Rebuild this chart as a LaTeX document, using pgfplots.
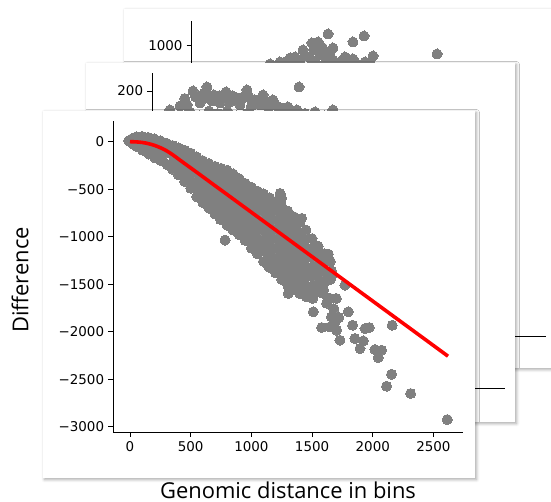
\documentclass[border=0pt]{standalone}
\usepackage{pgfplots}
\pgfplotsset{compat=1.18}
\usepackage{fontspec}
\usetikzlibrary{shadows.blur}
\newfontfamily\dejavu{DejaVu Sans}
\newfontfamily\opensans{Open Sans}
\definecolor{mplgray}{RGB}{128,128,128}
\pgfplotsset{
  card/.style={
    scale only axis, anchor=south west,
    axis lines*=left, axis line style={line width=0.9bp, black},
    tick align=outside, major tick length=5bp,
    tick style={line width=0.9bp, black},
    ticklabel style={font=\dejavu\fontsize{13.5}{14}\selectfont},
    yticklabel style={inner sep=0pt, xshift=-4bp},
    xticklabel style={inner sep=0pt, yshift=-4bp},
    clip marker paths=true,
  },
  dots/.style={only marks, color=mplgray, mark=*, mark size=5bp, mark options={draw=mplgray, fill=mplgray, line width=0pt}},
}
\tikzset{cardshadow/.style={fill=white, blur shadow={shadow xshift=1.5bp, shadow yshift=-1.5bp, shadow blur radius=3bp, shadow opacity=35}}}
\begin{document}
\begin{tikzpicture}
\useasboundingbox (0,0) rectangle (551bp,502bp);
% ---------- back card ----------
\fill[cardshadow] (124bp,134bp) rectangle (575bp,493bp);
\begin{axis}[card, at={(191.7bp,166bp)}, width=354.3bp, height=315.3bp,
  xmin=-137.6, xmax=2783, ymin=-1903, ymax=1250,
  xtick=\empty, ytick={1000}, yticklabels={1000}]
\addplot[dots] table {
x y
986 1117
1283 1097
1192 1037
1027 977
1357 897
1885 917
780 957
854 1027
904 1037
673 877
590 837
961 907
1027 857
1085 837
1167 857
1192 867
755 837
838 877
920 907
1002 937
1126 887
1208 837
1291 837
508 817
632 837
715 887
870 960
940 980
800 900
560 800
650 820
720 830
880 830
960 820
1050 800
1150 810
1250 800
1330 830
};
\end{axis}
% ---------- middle card ----------
\fill[cardshadow] (86bp,80bp) rectangle (515bp,439bp);
\begin{axis}[card, at={(152.3bp,114bp)}, width=352.7bp, height=314.7bp,
  xmin=-137.6, xmax=2770, ymin=-394, ymax=235.4,
  xtick=\empty, ytick={200}, yticklabels={200}]
\addplot[dots] table {
x y
91 170
198 200
313 208
371 192
470 198
544 188
610 188
643 202
709 182
775 192
857 182
981 168
1055 162
1072 208
1352 162
8 162
256 176
421 176
585 172
750 172
915 166
173 158
1204 158
130 185
260 190
330 185
420 190
500 178
560 182
680 170
820 165
890 170
1120 155
1280 150
50 140
130 150
250 150
330 160
400 155
480 160
560 150
640 155
720 145
800 150
880 145
960 150
1000 140
1420 145
150 172
220 188
290 196
360 180
440 186
520 190
590 180
660 188
730 180
800 180
870 174
940 165
1010 160
1160 148
};
\end{axis}
% ---------- front card ----------
\fill[cardshadow] (43bp,24bp) rectangle (475bp,391bp);
\begin{axis}[card, at={(113.3bp,70bp)}, width=350bp, height=311.3bp,
  xmin=-137.6, xmax=2746, ymin=-3056, ymax=221,
  xtick={0,500,1000,1500,2000,2500}, xticklabels={0,500,1000,1500,2000,2500},
  ytick={-3000,-2500,-2000,-1500,-1000,-500,0},
  yticklabels={−3000,−2500,−2000,−1500,−1000,−500,0}]
\addplot[dots] table {
x y
0 0
15 30
25 -25
-10 10
50 50
45 -10
55 -50
100 55
95 -20
105 -90
150 45
145 -40
155 -130
200 30
195 -60
205 -170
250 10
245 -95
255 -200
300 -15
295 -120
305 -240
350 -40
345 -130
355 -210
350 -290
400 -65
395 -160
405 -255
400 -350
450 -90
445 -180
455 -270
445 -350
450 -420
500 -120
495 -210
505 -300
495 -400
500 -490
550 -160
545 -250
555 -340
545 -430
555 -510
550 -580
600 -200
595 -290
605 -380
595 -470
605 -560
600 -640
650 -230
645 -320
655 -410
645 -500
655 -600
650 -700
700 -260
695 -360
705 -460
695 -560
705 -660
700 -760
750 -280
745 -380
755 -480
745 -580
755 -680
750 -760
745 -820
800 -300
795 -400
805 -500
795 -600
805 -700
795 -790
800 -880
850 -340
845 -440
855 -540
845 -640
855 -740
845 -840
850 -930
900 -390
895 -490
905 -590
895 -690
905 -790
895 -890
900 -980
950 -440
945 -540
955 -640
945 -740
955 -840
945 -940
950 -1040
1000 -480
995 -580
1005 -680
995 -780
1005 -880
995 -980
1005 -1060
1000 -1120
1050 -520
1045 -620
1055 -720
1045 -820
1055 -920
1045 -1020
1055 -1110
1050 -1180
1100 -550
1095 -650
1105 -750
1095 -850
1105 -950
1095 -1050
1105 -1150
1100 -1260
1150 -590
1145 -690
1155 -790
1145 -890
1155 -990
1145 -1090
1155 -1190
1150 -1260
1145 -1320
1200 -630
1195 -730
1205 -830
1195 -930
1205 -1030
1195 -1130
1205 -1230
1195 -1310
1200 -1380
1250 -680
1245 -780
1255 -880
1245 -980
1255 -1080
1245 -1180
1255 -1280
1245 -1370
1250 -1450
1300 -730
1295 -830
1305 -930
1295 -1030
1305 -1130
1295 -1230
1305 -1330
1295 -1430
1300 -1510
1350 -790
1345 -890
1355 -990
1345 -1090
1355 -1190
1345 -1290
1355 -1390
1345 -1480
1350 -1560
1400 -850
1395 -950
1405 -1050
1395 -1150
1405 -1250
1395 -1350
1405 -1450
1395 -1530
1400 -1600
1450 -930
1445 -1030
1455 -1130
1445 -1230
1455 -1330
1445 -1430
1455 -1530
1450 -1630
1500 -1020
1495 -1120
1505 -1220
1495 -1320
1505 -1420
1495 -1520
1500 -1600
1505 -1650
1550 -1100
1545 -1200
1555 -1300
1545 -1400
1555 -1500
1550 -1580
1600 -1180
1595 -1280
1605 -1380
1600 -1480
1595 -1560
1650 -1260
1660 -1360
1650 -1450
1660 -1422
783 -1036
1236 -544
1249 -596
1414 -807
1634 -1183
1304 -1597
1592 -1597
1579 -1317
1771 -1510
1798 -1791
1730 -2090
1579 -1956
1510 -1791
1660 -1844
1702 -1985
1647 -1950
1834 -1932
1853 -2072
1922 -2097
1895 -2177
1936 -1967
1971 -1956
2018 -2188
2073 -2195
2045 -2272
2160 -1932
2155 -2448
2114 -2574
2312 -2651
2614 -2925
1620 -1700
1680 -1760
1700 -1650
1720 -1850
1650 -1650
1690 -1900
};
\addplot[red, line width=3.6bp, smooth] coordinates {
(0,0) (50,-2) (100,-8) (150,-20) (200,-38) (250,-63) (300,-95) (350,-136)
(400,-183) (450,-230) (500,-276) (600,-369) (700,-463) (800,-556)
(1000,-743) (1200,-930) (1400,-1117) (1600,-1304) (1800,-1491)
(2000,-1678) (2200,-1865) (2400,-2052) (2620,-2258)
};
\end{axis}
\node[rotate=90, inner sep=0pt, font=\opensans\fontsize{22}{22}\selectfont] at (20bp,222bp) {Difference};
\node[inner sep=0pt, font=\opensans\fontsize{22}{22}\selectfont] at (288bp,12bp) {Genomic distance in bins};
\end{tikzpicture}
\end{document}
